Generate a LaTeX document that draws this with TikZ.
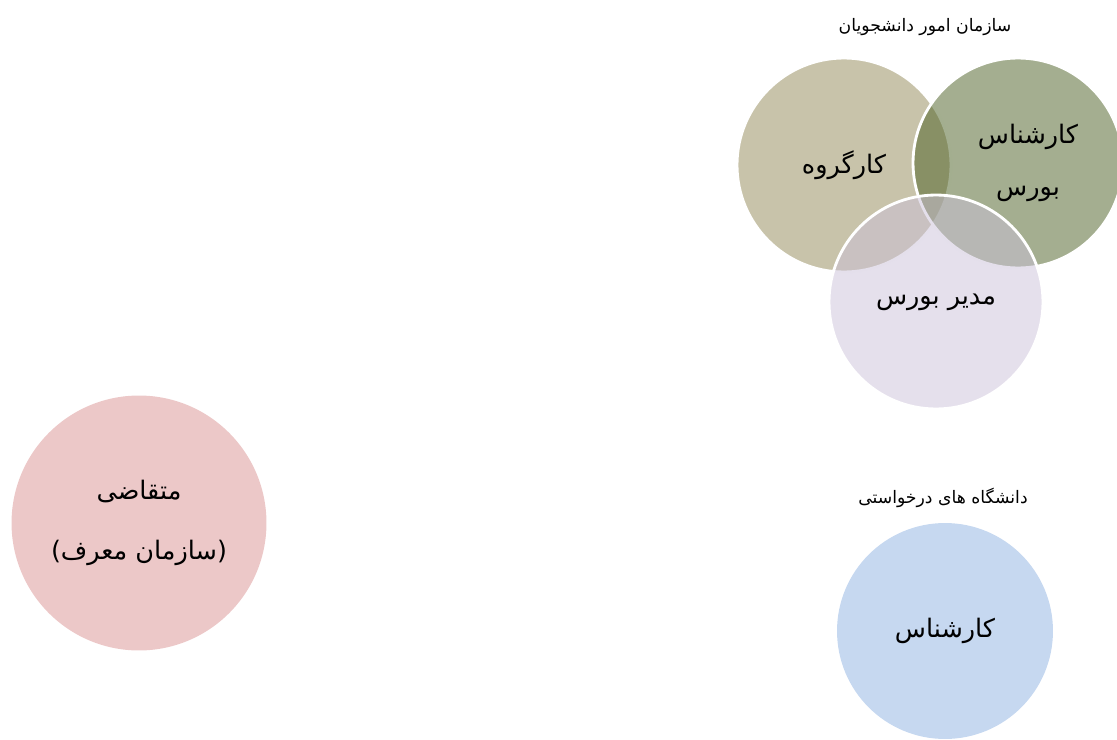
\documentclass[tikz,border=0pt]{standalone}
\usepackage{fontspec}
\newfontfamily\arabicfont[Script=Arabic]{DejaVu Sans}
\TeXXeTstate=1
\definecolor{tanc}{RGB}{145,135,85}
\definecolor{olivec}{RGB}{73,94,33}
\definecolor{lavc}{RGB}{203,193,217}
\definecolor{pinkc}{RGB}{236,200,200}
\definecolor{bluec}{RGB}{198,216,240}
\begin{document}
\begin{tikzpicture}[
    x=0.02cm, y=-0.02cm,
    role/.style={circle, draw=white, line width=1.6pt, minimum size=4.28cm, inner sep=0pt,
                 font=\arabicfont\fontsize{14.5}{29.5}\selectfont, align=center},
    venn/.style={role, fill opacity=0.5, text opacity=1},
    group/.style={font=\arabicfont\fontsize{9.8}{12}\selectfont}
]
    \useasboundingbox (0,0) rectangle (1117,740);

    % Applicant
    \node[role, fill=pinkc, draw=none, minimum size=5.1cm, font=\arabicfont\fontsize{14.5}{34}\selectfont] (applicant) at (139,523)
        {\beginR متقاضی\endR\\ \beginR(سازمان معرف)\endR};

    % Student affairs
    \node[group] (affairs) at (925,27) {\beginR سازمان امور دانشجویان\endR};
    \node[venn, fill=tanc] (workgroup) at (844,165) {\beginR کارگروه\endR};
    \node[venn, fill=olivec, minimum size=4.2cm] (expert) at (1018,163) {\hspace*{0.4cm}\beginR کارشناس\endR\\ \hspace*{0.4cm}\beginR بورس\endR};
    \node[venn, fill=lavc] (manager) at (936,302) {\beginR مدیر بورس\endR};

    % Universities
    \node[group] (unis) at (943,498) {\beginR دانشگاه های درخواستی\endR};
    \node[role, fill=bluec, draw=none, minimum size=4.32cm] (uniexpert) at (945,631) {\beginR کارشناس\endR};

\end{tikzpicture}
\end{document}
